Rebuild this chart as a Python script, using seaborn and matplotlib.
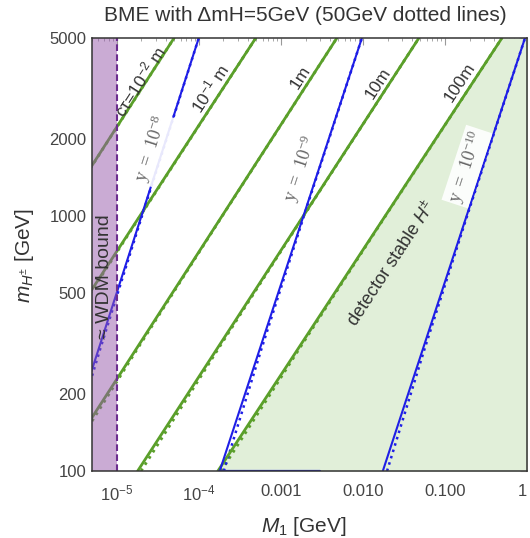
import numpy as np
import pandas as pd
import matplotlib
matplotlib.use("Agg")
import matplotlib.pyplot as plt
import seaborn as sns
from matplotlib.ticker import FixedLocator, FixedFormatter, NullFormatter

# ---------------- data ----------------
M_MIN, M_MAX = 5e-6, 1.0          # M1 range [GeV]
MH_MIN, MH_MAX = 100, 5000        # charged Higgs mass range [GeV]
WDM_BOUND = 1e-5                  # warm dark matter bound on M1 [GeV]

# decay-length contours c*tau, M1 [GeV] at mH = 100 and 5000 GeV (dMH = 5 GeV)
ct_labels = ["cτ=10$^{-2}$ m", "10$^{-1}$ m", "1m", "10m", "100m"]
mh_ends = [100, 5000]
ct_M_solid = [
    [2.01e-8, 5.00e-5],
    [1.81e-7, 4.95e-4],
    [1.90e-6, 4.82e-3],
    [1.80e-5, 4.82e-2],
    [1.71e-4, 0.495],
]
# same contours for dMH = 50 GeV (dotted)
mh_dotted = [100, 300, 1000, 5000]
ct_M_dotted = [
    [2.20e-8, 1.87e-7, 2.02e-6, 5.00e-5],
    [1.99e-7, 1.73e-6, 1.93e-5, 4.95e-4],
    [2.08e-6, 1.77e-5, 1.93e-4, 4.82e-3],
    [1.98e-5, 1.71e-4, 1.89e-3, 4.82e-2],
    [1.87e-4, 1.66e-3, 1.88e-2, 0.495],
]
# label placement: mH where the label sits along its contour, offset in px
ct_label_mh = [3297, 3006, 3350, 3163, 3177]
ct_label_off = [6, 11, 9, 10, 11]

# Yukawa contours y
y_labels = ["10^{-8}", "10^{-9}", "10^{-10}"]
y_M_solid = [
    [2.00e-6, 1.00e-4],
    [1.80e-4, 9.73e-3],
    [1.75e-2, 0.946],
]
y_M_dotted = [
    [2.24e-6, 6.27e-6, 2.03e-5, 1.00e-4],
    [2.02e-4, 5.78e-4, 1.91e-3, 9.73e-3],
    [1.97e-2, 5.62e-2, 0.186, 0.946],
]
y_label_mh = [1782, 1462, 1500]
y_label_off = [11, 18, 15]
# y = 1e-9 contour running along the lower edge
y9_floor_M = [1.75e-4, 3.0e-3]
y9_floor_mh = [100, 100]

x_ticks = [1e-5, 1e-4, 1e-3, 1e-2, 1e-1, 1]
x_ticklabels = ["$10^{-5}$", "$10^{-4}$", "0.001", "0.010", "0.100", "1"]
y_ticks = [100, 200, 500, 1000, 2000, 5000]
y_ticklabels = ["100", "200", "500", "1000", "2000", "5000"]

# ---------------- style ----------------
sns.set_theme(style="white")
plt.rcParams["font.family"] = ["Liberation Sans", "DejaVu Sans"]
plt.rcParams["mathtext.fontset"] = "custom"
plt.rcParams["mathtext.rm"] = "Liberation Sans"
plt.rcParams["mathtext.it"] = "Liberation Sans:italic"
plt.rcParams["mathtext.bf"] = "Liberation Sans:bold"

GREEN = "#5a9f2a"
BLUE = "#1e1ee6"
PURPLE = "#9659ab"
DASH_PURPLE = "#6b2c8e"
FILL_GREEN = "#e1efd9"
TEXT = "#333333"
TICK_TEXT = "#444444"

fig = plt.figure(figsize=(5.30, 5.38), dpi=100)
ax = fig.add_axes([92 / 530, 1 - 471 / 538, 435 / 530, 433 / 538])
ax.set_xscale("log")
ax.set_yscale("log")
ax.set_xlim(M_MIN, M_MAX)
ax.set_ylim(MH_MIN, MH_MAX)

# detector-stable region, right of the 100 m contour
ax.fill_betweenx(mh_ends, ct_M_solid[4], [M_MAX * 3, M_MAX * 3],
                 color=FILL_GREEN, lw=0, zorder=1)

def draw(xs, ys, color, lw, ls="-", z=3):
    sns.lineplot(x=xs, y=ys, ax=ax, color=color, lw=lw, linestyle=ls,
                 estimator=None, sort=False, zorder=z, legend=False)

for Ms, Md in zip(ct_M_solid, ct_M_dotted):
    draw(Md, mh_dotted, GREEN, 2.0, ":", 3)
    draw(Ms, mh_ends, GREEN, 2.0, "-", 4)

for Ms, Md in zip(y_M_solid, y_M_dotted):
    draw(Md, mh_dotted, BLUE, 1.8, ":", 3)
    draw(Ms, mh_ends, BLUE, 1.5, "-", 4)
draw(y9_floor_M, y9_floor_mh, BLUE, 1.6, "-", 4)

# warm dark matter exclusion
ax.axvspan(M_MIN, WDM_BOUND, color=PURPLE, alpha=0.5, lw=0, zorder=5)
ax.axvline(WDM_BOUND, color=DASH_PURPLE, lw=1.5, ls=(0, (3.2, 1.6)), zorder=6)


def angle_of(xs, ys):
    p = ax.transData.transform(np.column_stack([xs, ys]))
    return np.degrees(np.arctan2(p[-1, 1] - p[0, 1], p[-1, 0] - p[0, 0]))


def on_line(Ms, mh):
    """M1 on a straight log-log contour at a given mH (label anchor)."""
    lm = np.interp(np.log10(mh), np.log10(mh_ends), np.log10(Ms))
    return 10 ** lm


def line_label(text, Ms, mh, off, **kw):
    a = angle_of(Ms, mh_ends)
    r = np.radians(a)
    ox, oy = -np.sin(r) * off, np.cos(r) * off
    ax.annotate(text, xy=(on_line(Ms, mh), mh), xytext=(ox, oy),
                textcoords="offset pixels", rotation=a,
                rotation_mode="anchor", ha="center", va="center",
                zorder=7, **kw)


for lab, mh, off, Ms in zip(ct_labels, ct_label_mh, ct_label_off, ct_M_solid):
    line_label(lab, Ms, mh, off, fontsize=12.5, color=TEXT)

for lab, mh, off, Ms in zip(y_labels, y_label_mh, y_label_off, y_M_solid):
    line_label(r"$\mathregular{y\ =\ " + lab + "}$", Ms, mh, off,
               fontsize=13, color="#666666", family="Liberation Serif",
               bbox=dict(boxstyle="square,pad=0.12", fc="white", ec="none",
                         alpha=0.9))

line_label(r"detector stable $H^{\pm}$", ct_M_solid[4], 762, -31,
           fontsize=13, color=TEXT)
ax.text(7.1e-6, 577, "≈ WDM bound", rotation=90, rotation_mode="anchor",
        ha="center", va="center", fontsize=14, color=TEXT, zorder=7)

# ticks and frame
ax.xaxis.set_major_locator(FixedLocator(x_ticks))
ax.xaxis.set_major_formatter(FixedFormatter(x_ticklabels))
ax.yaxis.set_major_locator(FixedLocator(y_ticks))
ax.yaxis.set_major_formatter(FixedFormatter(y_ticklabels))
x_minor = [k * 10.0 ** e for e in range(-6, 0) for k in range(2, 10)]
y_minor = [150, 300, 400, 600, 700, 800, 900, 1500, 3000, 4000]
ax.xaxis.set_minor_locator(FixedLocator(x_minor))
ax.yaxis.set_minor_locator(FixedLocator(y_minor))
ax.xaxis.set_minor_formatter(NullFormatter())
ax.yaxis.set_minor_formatter(NullFormatter())
ax.tick_params(which="both", direction="in", top=True, right=True,
               color="#999999", labelcolor=TICK_TEXT, labelsize=12)
ax.tick_params(which="major", length=5, width=0.8)
ax.tick_params(which="minor", length=2.5, width=0.6)
ax.tick_params(axis="x", pad=9)
ax.tick_params(axis="y", pad=4)
ax.get_xticklabels()[-1].set_horizontalalignment("right")
for s in ax.spines.values():
    s.set_color("#333333")
    s.set_linewidth(1.1)
    s.set_zorder(10)
ax.set_xlabel("")
ax.set_ylabel("")

fig.text(305 / 530, 1 - 21 / 538, "BME with ΔmH=5GeV (50GeV dotted lines)",
         ha="center", va="baseline", fontsize=15, color=TEXT)
fig.text(304 / 530, 1 - 526 / 538, r"$M_1$ [GeV]", ha="center", va="center",
         fontsize=15, color=TEXT)
fig.text(24 / 530, 1 - 255 / 538, r"$m_{H^{\pm}}$ [GeV]", ha="center",
         va="center", rotation=90, fontsize=15, color=TEXT)

fig.savefig("out.png", dpi=100)
